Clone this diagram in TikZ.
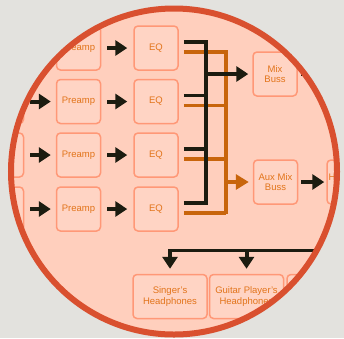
\documentclass[tikz,border=0pt]{standalone}
\usepackage{fontspec}
\setmainfont{Liberation Sans}
\usetikzlibrary{arrows.meta}
\definecolor{bg}{HTML}{E3E2DE}
\definecolor{ring}{HTML}{D9502F}
\definecolor{fillin}{HTML}{FFCFBD}
\definecolor{boxfill}{HTML}{FFD4C4}
\definecolor{boxline}{HTML}{FF9877}
\definecolor{txt}{HTML}{E2741A}
\definecolor{blk}{HTML}{1C1C10}
\definecolor{org}{HTML}{C8650C}
\begin{document}
\begin{tikzpicture}[x=1pt,y=-1pt,
  box/.style={draw=boxline, fill=boxfill, line width=1.5pt, rounded corners=4pt,
    minimum width=44pt, minimum height=44pt, inner sep=1pt,
    font=\fontsize{9.5}{10.5}\selectfont, text=txt, align=center},
  widebox/.style={box, minimum width=74pt},
  blkarrow/.style={draw=blk, line width=4pt, -{Triangle[length=12pt,width=15pt]}},
  orgarrow/.style={draw=org, line width=3.5pt, -{Triangle[length=13pt,width=15pt]}},
  blkline/.style={draw=blk, line width=3.5pt},
  orgline/.style={draw=org, line width=3.5pt}]
\useasboundingbox (0,0) rectangle (344,338);
\fill[bg] (0,0) rectangle (344,338);
\fill[fillin] (174,171.5) circle (163);
\begin{scope}
\clip (174,171.5) circle (163);
% inputs
\node[box] (in1) at (1.5,48) {};
\node[box] (in2) at (1.5,101.5) {};
\node[box] (in3) at (1.5,155) {};
\node[box] (in4) at (1.5,209) {};
\node[box] (pre1) at (78.5,48) {Preamp};
\node[box] (pre2) at (78.5,101.5) {Preamp};
\node[box] (pre3) at (78.5,155) {Preamp};
\node[box] (pre4) at (78.5,209) {Preamp};
\node[box] (eq1) at (156,48) {EQ};
\node[box] (eq2) at (156,101.5) {EQ};
\node[box] (eq3) at (156,155) {EQ};
\node[box] (eq4) at (156,209) {EQ};
\node[box] (mix) at (275,74) {Mix\\Buss};
\node[box] (aux) at (275.5,182) {Aux Mix\\Buss};
\node[box, align=left, text width=41pt] (hamp) at (349,182) {H\\~};
\node[widebox] (sing) at (170,296.5) {Singer's\\Headphones};
\node[widebox] (guit) at (246.5,296.5) {Guitar Player's\\Headphones};
\node[widebox] (third) at (324,296.5) {};
\foreach \i in {1,2,3,4}{
  \draw[blkarrow, shorten <=6pt, shorten >=5pt] (in\i) -- (pre\i);
  \draw[blkarrow, shorten <=6pt, shorten >=6pt] (pre\i) -- (eq\i);
}
% bus coordinates
\coordinate (bv1) at (206,42);
\coordinate (bv4) at (206,203);
\coordinate (ov1) at (226,52);
\coordinate (ov4) at (226,212);
\coordinate (bmix) at (206,74);
\coordinate (oaux) at (226,182);
% orange bus
\foreach \i in {1,2,3,4}{
  \draw[orgline] ([xshift=5pt,yshift=-4pt]eq\i.east) -- ([yshift=-4pt]eq\i.east -| ov1);
}
\draw[orgline] ([yshift=1.75pt]ov1) -- ([yshift=-1.75pt]ov4);
\draw[orgarrow, shorten >=4pt] (oaux) -- (aux.west);
% black bus
\foreach \i in {1,2,3,4}{
  \draw[blkline] ([xshift=5pt,yshift=6pt]eq\i.east) -- ([yshift=6pt]eq\i.east -| bv1);
}
\draw[blkline] ([yshift=1.75pt]bv1) -- ([yshift=-1.75pt]bv4);
\draw[blkarrow, shorten >=4pt] (bmix) -- (mix.west);
\coordinate (mixout) at (330,74);
\draw[blkarrow, shorten <=3pt] (mix.east) -- (mixout);
\draw[blkarrow, shorten <=3pt, shorten >=2pt] (aux) -- (hamp);
% headphone bus
\coordinate (hb0) at (168,250.5);
\coordinate (hb1) at (345,250.5);
\draw[blkline] (hb0) -- (hb1);
\foreach \n in {sing,guit,third}{
  \draw[blkarrow, shorten >=5pt] (hb0 -| \n) -- (\n.north);
}
\end{scope}
\draw[ring, line width=6pt] (174,171.5) circle (163);
\end{tikzpicture}
\end{document}
